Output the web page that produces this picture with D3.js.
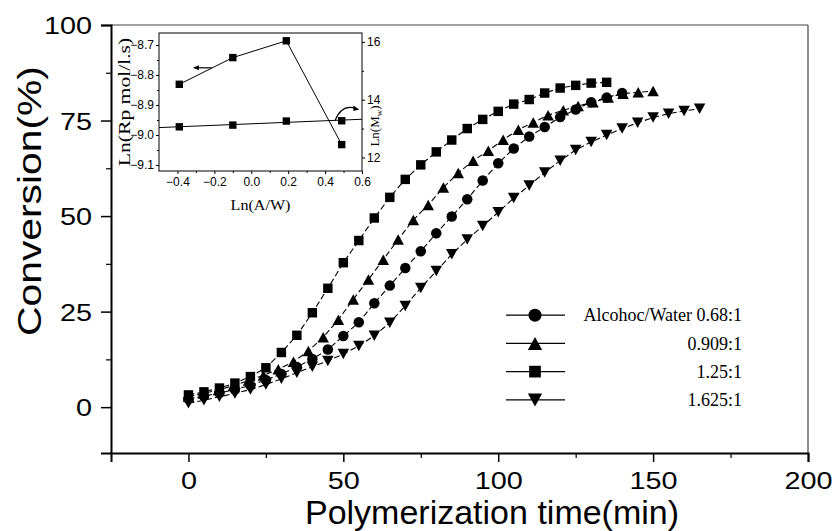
<!DOCTYPE html>
<html><head><meta charset="utf-8">
<script src="https://cdn.jsdelivr.net/npm/d3@7"></script>
<style>body{margin:0;background:#fff}svg{display:block}</style>
</head><body>
<svg id="c" width="838" height="531"></svg>
<script>
// ---------- data (main) ----------
const seriesNames = ["Alcohoc/Water 0.68:1", "0.909:1", "1.25:1", "1.625:1"];
const circleTime = [0,5,10,15,20,25,30,35,40,45,50,55,60,65,70,75,80,85,90,95,100,105,110,115,120,125,130,135,140];
const circleConv = [2.2,2.9,3.7,4.6,5.7,7.1,8.7,10.5,12.6,15.1,18.6,22.2,27.2,31.8,36.4,40.8,45.5,49.9,54.4,59.3,63.8,67.7,70.8,73.3,75.9,77.9,79.8,81.0,82.2];
const triTime = [0,4.8,9.7,14.5,19.4,24.2,29.0,33.9,38.7,43.5,48.4,53.2,58.1,62.9,67.7,72.6,77.4,82.3,87.1,91.9,96.8,101.6,106.5,111.3,116.1,121.0,125.8,130.6,135.5,140.3,145.2,150];
const triConv = [2.8,3.6,4.5,5.6,7.0,8.3,9.9,11.9,14.7,18.3,22.9,28.2,33.4,38.6,43.9,49.0,52.9,57.5,61.3,64.5,67.1,70.0,72.6,74.5,76.4,77.7,78.8,79.8,81.0,82.0,82.4,82.7];
const squareTime = [0,5,10,15,20,25,30,35,40,45,50,55,60,65,70,75,80,85,90,95,100,105,110,115,120,125,130,135];
const squareConv = [3.2,4.0,5.0,6.3,8.0,10.3,14.3,18.8,24.7,31.1,37.8,43.6,49.5,54.9,59.6,63.4,66.8,69.9,72.9,75.3,77.4,79.3,80.5,82.2,83.5,84.2,84.8,85.0];
const invTime = [0,5,10,15,20,25,30,35,40,45,50,55,60,65,70,75,80,85,90,95,100,105,110,115,120,125,130,135,140,145,150,155,160,165];
const invConv = [1.0,1.8,2.7,3.6,4.6,5.9,7.4,9.0,10.6,12.1,13.9,16.0,18.7,22.1,26.5,31.2,35.6,40.0,43.9,47.4,51.0,54.7,58.0,61.4,64.5,67.3,69.4,71.2,72.9,74.4,75.8,76.8,77.5,78.1];
const xTicks = [0,50,100,150,200];
const yTicks = [0,25,50,75,100];

// ---------- data (inset) ----------
const lnAW = [-0.39,-0.10,0.19,0.49];
const lnRp = [-8.831,-8.742,-8.686,-9.032];
const lnMw = [13.06,13.12,13.26,13.27];
const insetXTicks = [-0.4,-0.2,0.0,0.2,0.4,0.6];
const insetYLTicks = [-8.7,-8.8,-8.9,-9.0,-9.1];
const insetYRTicks = [12,14,16];

const svg = d3.select("#c");
const SANS = "'Liberation Sans', Arial, sans-serif";
const SERIF = "'Liberation Serif', 'Times New Roman', serif";

// ---------- main scales ----------
const x = d3.scaleLinear().domain([-25,200]).range([111,808]);
const y = d3.scaleLinear().domain([-12,100]).range([453,25]);

// frame
svg.append("line").attr("x1",x(-25)).attr("x2",x(200)).attr("y1",y(100)).attr("y2",y(100)).attr("stroke","#444").attr("stroke-width",1.2);
svg.append("line").attr("x1",x(200)).attr("x2",x(200)).attr("y1",y(100)).attr("y2",y(-12)).attr("stroke","#444").attr("stroke-width",1.2);

// axes
const xAxis = d3.axisBottom(x).tickValues(xTicks).tickSize(9).tickFormat(d3.format("d"));
const gx = svg.append("g").attr("transform",`translate(0,${y(-12)})`).call(xAxis);
gx.select(".domain").attr("stroke-width",2);
gx.selectAll(".tick line").attr("stroke-width",1.5);
gx.selectAll("text").attr("font-family",SANS).attr("font-size",24).attr("fill","#000")
  .attr("y",0).attr("dy",0).attr("transform","translate(0,36) scale(1.2,1)");
const xMinor = d3.axisBottom(x).tickValues([-25,25,75,125,175]).tickSize(5).tickFormat("");
const gxm = svg.append("g").attr("transform",`translate(0,${y(-12)})`).call(xMinor);
gxm.select(".domain").remove(); gxm.selectAll(".tick line").attr("stroke-width",1.2);

const yAxis = d3.axisLeft(y).tickValues(yTicks).tickSize(10);
const gy = svg.append("g").attr("transform",`translate(${x(-25)},0)`).call(yAxis);
gy.select(".domain").attr("stroke-width",2);
gy.selectAll(".tick line").attr("stroke-width",1.5);
gy.selectAll("text").attr("font-family",SANS).attr("font-size",24).attr("fill","#000")
  .attr("x",0).attr("transform","translate(-19,1) scale(1.2,1)");
const yMinor = d3.axisLeft(y).tickValues([12.5,37.5,62.5,87.5]).tickSize(5).tickFormat("");
const gym = svg.append("g").attr("transform",`translate(${x(-25)},0)`).call(yMinor);
gym.select(".domain").remove(); gym.selectAll(".tick line").attr("stroke-width",1.2);

// titles
svg.append("text").attr("x",492).attr("y",524).attr("text-anchor","middle")
  .attr("font-family",SANS).attr("font-size",34).text("Polymerization time(min)");
svg.append("text").attr("transform","translate(41,201) rotate(-90) scale(1.2,1)").attr("text-anchor","middle")
  .attr("font-family",SANS).attr("font-size",34).text("Conversion(%)");

// markers
function shapePath(kind, s){
  const h = s/2;
  if(kind==="circle") return d3.symbol(d3.symbolCircle, Math.PI*h*h)();
  if(kind==="square") return `M${-h*0.9},${-h*0.9}H${h*0.9}V${h*0.9}H${-h*0.9}Z`;
  if(kind==="up") return `M0,${-h}L${h*1.1},${h}L${-h*1.1},${h}Z`;
  return `M0,${h}L${h*1.1},${-h}L${-h*1.1},${-h}Z`;
}
const series = [
  {name:seriesNames[0], kind:"circle", t:circleTime, v:circleConv},
  {name:seriesNames[1], kind:"up", t:triTime, v:triConv},
  {name:seriesNames[2], kind:"square", t:squareTime, v:squareConv},
  {name:seriesNames[3], kind:"down", t:invTime, v:invConv}
];
const line = d3.line().x(d=>x(d[0])).y(d=>y(d[1]));
series.forEach(s=>{
  const pts = s.t.map((t,i)=>[t,s.v[i]]);
  svg.append("path").attr("d",line(pts)).attr("fill","none").attr("stroke","#000")
    .attr("stroke-width",1.1).attr("stroke-dasharray","6,3");
});
series.forEach(s=>{
  const pts = s.t.map((t,i)=>[t,s.v[i]]);
  svg.append("g").selectAll("path").data(pts).join("path")
    .attr("transform",d=>`translate(${x(d[0])},${y(d[1])})`)
    .attr("d",shapePath(s.kind,10.5)).attr("fill","#000");
});

// legend
const legY = d3.scaleBand().domain(seriesNames).range([301,414]);
const leg = svg.append("g");
series.forEach(s=>{
  const cy = legY(s.name)+legY.bandwidth()/2;
  leg.append("line").attr("x1",506).attr("x2",565).attr("y1",cy).attr("y2",cy).attr("stroke","#000").attr("stroke-width",1.2);
  leg.append("path").attr("transform",`translate(535,${cy})`).attr("d",shapePath(s.kind,13)).attr("fill","#000");
  leg.append("text").attr("x",742).attr("y",cy).attr("dy","0.35em").attr("text-anchor","end")
    .attr("font-family",SERIF).attr("font-size",18).text(s.name);
});

// ---------- inset ----------
const ix = d3.scaleLinear().domain([-0.5,0.6]).range([159,362]);
const iyL = d3.scaleLinear().domain([-9.12,-8.66]).range([171,33]);
const iyR = d3.scaleLinear().domain([11.53,16.31]).range([171,33]);
const inset = svg.append("g");
inset.append("rect").attr("x",ix(-0.5)).attr("y",iyL(-8.66)).attr("width",ix(0.6)-ix(-0.5)).attr("height",iyL(-9.12)-iyL(-8.66))
  .attr("fill","#fff").attr("stroke","#000").attr("stroke-width",1);
function styleInset(g){
  g.select(".domain").remove();
  g.selectAll(".tick line").attr("stroke-width",1);
  g.selectAll("text").attr("font-family",SANS).attr("font-size",12).attr("fill","#000");
}
const gix = inset.append("g").attr("transform",`translate(0,${iyL(-9.12)})`)
  .call(d3.axisBottom(ix).tickValues(insetXTicks).tickSize(3).tickPadding(3).tickFormat(d3.format(".1f")));
styleInset(gix);
const gixm = inset.append("g").attr("transform",`translate(0,${iyL(-9.12)})`)
  .call(d3.axisBottom(ix).tickValues([-0.3,-0.1,0.1,0.3,0.5]).tickSize(2).tickFormat(""));
styleInset(gixm);
const giy = inset.append("g").attr("transform",`translate(${ix(-0.5)},0)`)
  .call(d3.axisLeft(iyL).tickValues(insetYLTicks).tickSize(3).tickPadding(2).tickFormat(d3.format(".1f")));
styleInset(giy);
const giym = inset.append("g").attr("transform",`translate(${ix(-0.5)},0)`)
  .call(d3.axisLeft(iyL).tickValues([-8.75,-8.85,-8.95,-9.05]).tickSize(2).tickFormat(""));
styleInset(giym);
const giyr = inset.append("g").attr("transform",`translate(${ix(0.6)},0)`)
  .call(d3.axisRight(iyR).tickValues(insetYRTicks).tickSize(3).tickPadding(2).tickFormat(d3.format("d")));
styleInset(giyr);
const giyrm = inset.append("g").attr("transform",`translate(${ix(0.6)},0)`)
  .call(d3.axisRight(iyR).tickValues([13,15]).tickSize(2).tickFormat(""));
styleInset(giyrm);

// Rp polyline
const rpPts = lnAW.map((a,i)=>[a,lnRp[i]]);
inset.append("path").attr("d",d3.line().x(d=>ix(d[0])).y(d=>iyL(d[1]))(rpPts)).attr("fill","none").attr("stroke","#000").attr("stroke-width",1);
// Mw linear fit across full inset
const mx = d3.mean(lnAW), my = d3.mean(lnMw);
const slope = d3.sum(lnAW.map((a,i)=>(a-mx)*(lnMw[i]-my)))/d3.sum(lnAW.map(a=>(a-mx)*(a-mx)));
const icpt = my - slope*mx;
inset.append("line").attr("x1",ix(-0.5)).attr("x2",ix(0.6)).attr("y1",iyR(icpt+slope*-0.5)).attr("y2",iyR(icpt+slope*0.6))
  .attr("stroke","#000").attr("stroke-width",1);
const sq = `M-3.7,-3.7H3.7V3.7H-3.7Z`;
inset.selectAll(".rp").data(rpPts).join("path").attr("transform",d=>`translate(${ix(d[0])},${iyL(d[1])})`).attr("d",sq).attr("fill","#000");
inset.selectAll(".mw").data(lnAW.map((a,i)=>[a,lnMw[i]])).join("path").attr("transform",d=>`translate(${ix(d[0])},${iyR(d[1])})`).attr("d",sq).attr("fill","#000");

// arrows
const ax0 = ix(-0.214), ax1 = ix(-0.316), ay = iyL(-8.776);
inset.append("line").attr("x1",ax0).attr("x2",ax1+3).attr("y1",ay).attr("y2",ay).attr("stroke","#000").attr("stroke-width",1.2);
inset.append("path").attr("d",`M${ax1},${ay}l6,-2.5v5Z`).attr("fill","#000");
const c0=[ix(0.454),iyL(-8.952)], c1=[ix(0.49),iyL(-8.895)], c2=[ix(0.58),iyL(-8.912)];
inset.append("path").attr("d",`M${c0[0]},${c0[1]}Q${c1[0]},${c1[1]} ${c2[0]-2},${c2[1]}`).attr("fill","none").attr("stroke","#000").attr("stroke-width",1.2);
inset.append("path").attr("d",`M${c2[0]+1},${c2[1]+1}l-6,-4l0,5.5Z`).attr("fill","#000");

// inset titles
inset.append("text").attr("transform",`translate(${(ix(-0.5)+ix(0.6))/2},210) scale(1.15,1)`).attr("text-anchor","middle")
  .attr("font-family",SERIF).attr("font-size",14).text("Ln(A/W)");
inset.append("text").attr("transform",`translate(130,${(iyL(-8.66)+iyL(-9.12))/2}) rotate(-90) scale(1.35,1)`).attr("text-anchor","middle")
  .attr("font-family",SERIF).attr("font-size",16).text("Ln(Rp mol/l.s)");
const tw = inset.append("text").attr("transform",`translate(379,126) rotate(-90)`).attr("text-anchor","middle")
  .attr("font-family",SERIF).attr("font-size",13);
tw.append("tspan").text("Ln(M");
tw.append("tspan").attr("font-size",9).attr("dy",3).text("w");
tw.append("tspan").attr("dy",-3).text(")");
</script>
</body></html>
